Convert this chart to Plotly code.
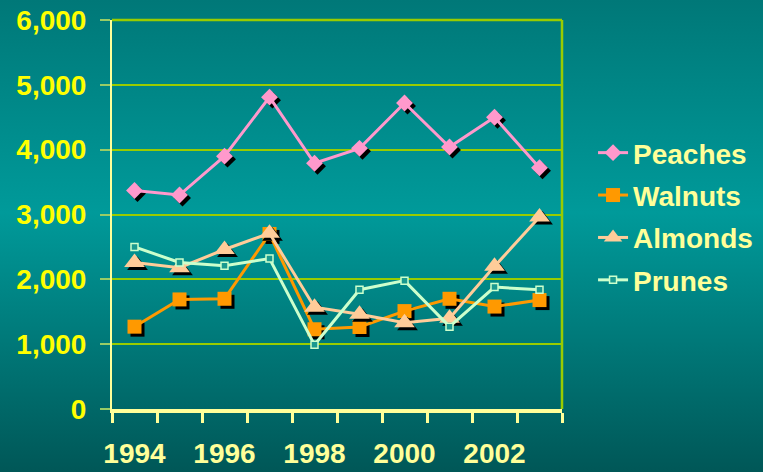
import base64
import plotly.graph_objects as go

years = [1994, 1995, 1996, 1997, 1998, 1999, 2000, 2001, 2002, 2003]
peaches = [3370, 3300, 3900, 4810, 3790, 4020, 4720, 4040, 4500, 3720]
walnuts = [1270, 1690, 1700, 2700, 1230, 1265, 1510, 1700, 1580, 1680]
almonds = [2260, 2180, 2460, 2710, 1570, 1460, 1330, 1400, 2200, 2960]
prunes = [2500, 2260, 2210, 2320, 990, 1840, 1980, 1270, 1880, 1840]
label_years = [1994, 1996, 1998, 2000, 2002]

W, H = 763, 472
L, R, T, B = 112, 201, 20, 63
PW, PH = W - L - R, H - T - B
xr = [years[0] - 0.5, years[-1] + 0.5]
yr = [0, 6000]
dx = 3 * (xr[1] - xr[0]) / PW
dy = 3 * (yr[1] - yr[0]) / PH

svg = ('<svg xmlns="http://www.w3.org/2000/svg" width="%d" height="%d">'
       '<defs><linearGradient id="g" x1="0" y1="0" x2="0" y2="1">'
       '<stop offset="0" stop-color="#007878"/>'
       '<stop offset="0.45" stop-color="#009a9a"/>'
       '<stop offset="1" stop-color="#005757"/>'
       '</linearGradient></defs>'
       '<rect width="%d" height="%d" fill="url(#g)"/></svg>') % (W, H, W, H)
src = "data:image/svg+xml;base64," + base64.b64encode(svg.encode()).decode()

series = [
    ("Peaches", peaches, "#FF99CC", "diamond", 13, True),
    ("Walnuts", walnuts, "#FF9900", "square", 14, True),
    ("Almonds", almonds, "#FFCC99", "triangle-up", 18, True),
    ("Prunes", prunes, "#CCFFCC", "square", 7, False),
]

fig = go.Figure()
# empty trace so the main (visible) axes are drawn
fig.add_trace(go.Scatter(x=[], y=[], showlegend=False, hoverinfo="skip"))
layout_axes = {}
k = 2
for name, vals, col, sym, size, shadow in series:
    if shadow:
        layout_axes["xaxis%d" % k] = dict(overlaying="x", range=[xr[0] - dx, xr[1] - dx], visible=False)
        layout_axes["yaxis%d" % k] = dict(overlaying="y", range=[yr[0] + dy, yr[1] + dy], visible=False)
        fig.add_trace(go.Scatter(x=years, y=vals, mode="markers", showlegend=False, hoverinfo="skip",
                                 marker=dict(symbol=sym, size=size, color="black", line=dict(width=0)),
                                 xaxis="x%d" % k, yaxis="y%d" % k))
        k += 1
    layout_axes["xaxis%d" % k] = dict(overlaying="x", range=xr, visible=False)
    layout_axes["yaxis%d" % k] = dict(overlaying="y", range=yr, visible=False)
    if sym == "square" and not shadow:
        mk = dict(symbol=sym, size=size, color="#1a9a90", line=dict(width=1.5, color=col))
    else:
        mk = dict(symbol=sym, size=size, color=col, line=dict(width=0))
    fig.add_trace(go.Scatter(x=years, y=vals, mode="lines+markers", name=name, legendgroup=name,
                             line=dict(color=col, width=3), marker=mk,
                             xaxis="x%d" % k, yaxis="y%d" % k))
    k += 1

bounds = [y - 0.5 for y in years] + [years[-1] + 0.5]

fig.update_layout(
    width=W, height=H,
    margin=dict(l=L, r=R, t=T, b=B, autoexpand=False),
    paper_bgcolor="#008888",
    plot_bgcolor="rgba(0,0,0,0)",
    images=[dict(source=src, xref="paper", yref="paper",
                 x=-L / PW, y=1 + T / PH, sizex=W / PW, sizey=H / PH,
                 xanchor="left", yanchor="top", sizing="stretch", layer="below")],
    xaxis=dict(range=xr, tickvals=label_years, ticktext=[str(y) for y in label_years],
               ticks="", showgrid=False, zeroline=False, automargin=False,
               showline=True, linecolor="#FFFF99", linewidth=4,
               tickfont=dict(family="Liberation Sans, Arial", size=28, color="#FFFF99", weight="bold"),
               ticklabelstandoff=16,
               minor=dict(tickvals=bounds, ticks="outside", ticklen=10, tickwidth=3,
                          tickcolor="#FFFF99", showgrid=False)),
    yaxis=dict(range=yr, dtick=1000, tickformat=",", ticks="outside", ticklen=10, tickwidth=1.5,
               tickcolor="#99CC66", showgrid=True, gridcolor="#99CC00", gridwidth=1.5,
               zeroline=False, showline=True, linecolor="#FFFF99", linewidth=2, automargin=False,
               tickfont=dict(family="Liberation Sans, Arial", size=28, color="#FFFF00", weight="bold"),
               ticklabelstandoff=8),
    legend=dict(x=1.069, y=0.495, xanchor="left", yanchor="middle", bgcolor="rgba(0,0,0,0)",
                tracegroupgap=3,
                font=dict(family="Liberation Sans, Arial", size=28, color="#FFFF99", weight="bold")),
    shapes=[
        dict(type="line", xref="paper", yref="paper", x0=0, x1=1, y0=1, y1=1,
             line=dict(color="#99CC00", width=2.5)),
        dict(type="line", xref="paper", yref="paper", x0=1, x1=1, y0=0, y1=1,
             line=dict(color="#99CC00", width=2.5)),
    ],
    **layout_axes,
)

fig.write_html("out.html", config={"displayModeBar": False},
               post_script="document.body.style.margin='0';")
